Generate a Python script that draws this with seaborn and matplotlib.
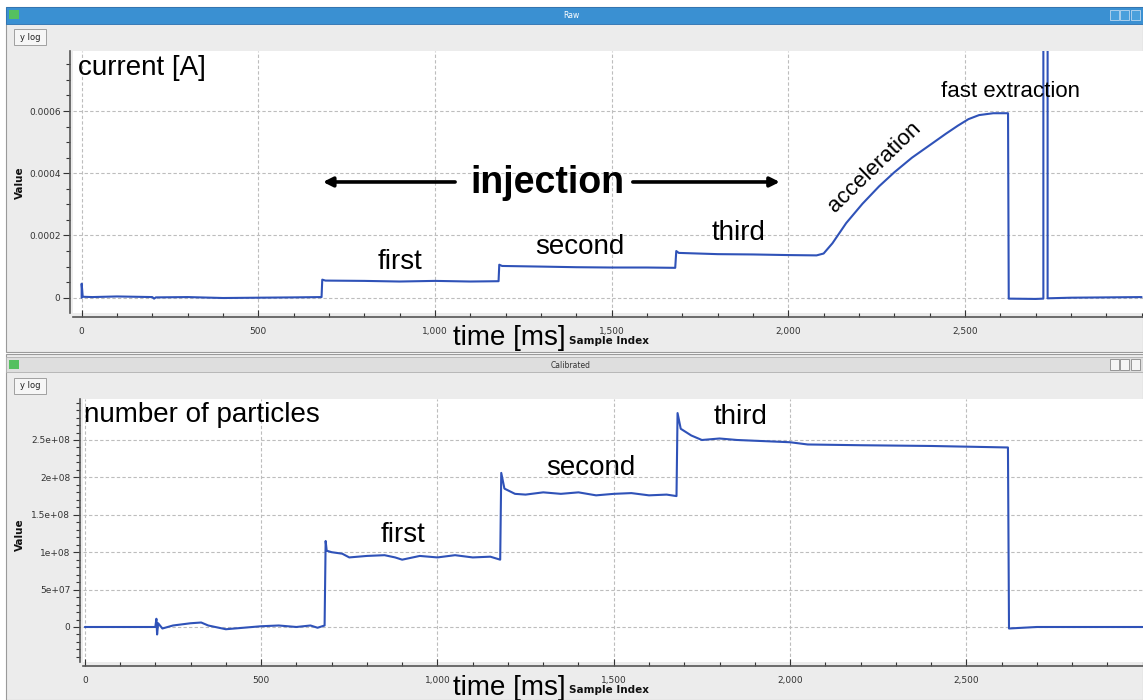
import matplotlib
matplotlib.use("Agg")
import matplotlib.pyplot as plt
from matplotlib.patches import Rectangle
from matplotlib.ticker import MultipleLocator, FixedLocator, FixedFormatter
import seaborn as sns
import pandas as pd

# ---------------- data ----------------
raw_time = [0, 0, 3, 30, 100, 150, 200, 205, 210, 300, 400, 500, 600, 679,
            681, 690, 800, 900, 1000, 1100, 1180,
            1182, 1190, 1300, 1400, 1500, 1600, 1680,
            1683, 1690, 1800, 1900, 2000, 2080, 2100, 2125,
            2164, 2210, 2257, 2300, 2350, 2400, 2446, 2480, 2510, 2540, 2580, 2622,
            2624, 2700, 2722, 2722, 2734, 2734, 2800, 2900, 3000]
raw_current = [0.0, 0.000045, 0.000003, 0.000002, 0.000004, 0.000003, 0.000002, -0.000003, 0.000001,
               0.000002, -0.000001, 0.0, 0.000001, 0.000002,
               0.000058, 0.000055, 0.000054, 0.000052, 0.000054, 0.000052, 0.000053,
               0.000106, 0.000102, 0.000100, 0.000098, 0.000097, 0.000097, 0.000096,
               0.000150, 0.000144, 0.000140, 0.000139, 0.000137, 0.000136, 0.000142, 0.000175,
               0.000240, 0.000302, 0.000358, 0.000403, 0.000450, 0.000490, 0.000527, 0.000553,
               0.000574, 0.000587, 0.000593, 0.000593,
               -0.000003, -0.000004, -0.000003, 0.002, 0.002, -0.000002, 0.0, 0.000001, 0.000002]

cal_time = [0, 200, 203, 205, 208, 220, 250, 300, 330, 350, 400, 450, 500, 550, 600, 640, 660, 680,
            683, 686, 700, 730, 750, 800, 850, 880, 900, 950, 1000, 1050, 1100, 1150, 1178,
            1181, 1190, 1220, 1250, 1300, 1350, 1400, 1450, 1500, 1550, 1600, 1650, 1678,
            1681, 1690, 1720, 1750, 1800, 1850, 1900, 2000, 2050, 2200, 2400, 2618,
            2621, 2700, 3000]
cal_particles = [0, 0, 1.1e7, -1.0e7, 5e6, -2e6, 2e6, 5e6, 6e6, 2e6, -3e6, -1e6, 1e6, 2e6, 0, 2e6, -1e6, 2e6,
                 1.15e8, 1.02e8, 1.0e8, 9.8e7, 9.3e7, 9.5e7, 9.6e7, 9.3e7, 9.0e7, 9.5e7, 9.3e7, 9.6e7, 9.3e7, 9.4e7, 9.0e7,
                 2.06e8, 1.85e8, 1.78e8, 1.77e8, 1.80e8, 1.78e8, 1.80e8, 1.76e8, 1.78e8, 1.79e8, 1.76e8, 1.77e8, 1.75e8,
                 2.86e8, 2.65e8, 2.56e8, 2.50e8, 2.52e8, 2.50e8, 2.49e8, 2.47e8, 2.44e8, 2.43e8, 2.42e8, 2.40e8,
                 -2e6, 0, 0]

top_yticks = [0, 0.0002, 0.0004, 0.0006]
top_yticklabels = ["0", "0.0002", "0.0004", "0.0006"]
bot_yticks = [0, 5e7, 1e8, 1.5e8, 2e8, 2.5e8]
bot_yticklabels = ["0", "5e+07", "1e+08", "1.5e+08", "2e+08", "2.5e+08"]
xticks = [0, 500, 1000, 1500, 2000, 2500]
xticklabels = ["0", "500", "1,000", "1,500", "2,000", "2,500"]

# ---------------- figure ----------------
sns.set_theme(style="white")
plt.rcParams["font.family"] = ["DejaVu Sans"]
plt.rcParams["text.color"] = "black"
W, H = 1143, 700
fig = plt.figure(figsize=(W / 100, H / 100), dpi=100)
fig.patch.set_facecolor("white")

def rect_px(x0, y0, x1, y1, **kw):
    r = Rectangle((x0 / W, 1 - y1 / H), (x1 - x0) / W, (y1 - y0) / H,
                  transform=fig.transFigure, **kw)
    fig.add_artist(r)
    return r

def text_px(x, y, s, **kw):
    return fig.text(x / W, 1 - y / H, s, **kw)

# window chrome
rect_px(6, 7, W, 352, facecolor="#ececec", edgecolor="#9a9a9a", lw=0.8, zorder=0)
rect_px(6, 7, W, 24, facecolor="#3a90d2", edgecolor="#2a70b0", lw=0.6, zorder=1)
text_px(571, 16, "Raw", color="white", fontsize=5.5, ha="center", va="center")
rect_px(9, 10, 19, 19, facecolor="#55c060", edgecolor="none", zorder=2)
for bx in (1110, 1120, 1131):
    rect_px(bx, 10, bx + 9, 20, facecolor="#4aa0dc", edgecolor="#bcd8f0", lw=0.6, zorder=2)

rect_px(6, 354, W, 700, facecolor="#ececec", edgecolor="#9a9a9a", lw=0.8, zorder=0)
rect_px(6, 357, W, 372, facecolor="#dedede", edgecolor="#b0b0b0", lw=0.6, zorder=1)
text_px(571, 365, "Calibrated", color="#333333", fontsize=5.5, ha="center", va="center")
rect_px(9, 360, 19, 369, facecolor="#55c060", edgecolor="none", zorder=2)
for bx in (1110, 1120, 1131):
    rect_px(bx, 359, bx + 9, 370, facecolor="#f4f4f4", edgecolor="#888888", lw=0.6, zorder=2)

for yb in (29, 378):
    rect_px(14, yb, 46, yb + 16, facecolor="#f6f6f6", edgecolor="#a0a0a0", lw=0.7, zorder=2)
    text_px(30, yb + 8, "y log", fontsize=6, ha="center", va="center", color="#222222")

line_color = "#2f52b8"
grid_kw = dict(color="#bdbdbd", linestyle=(0, (3, 2)), linewidth=0.8)

def style_axes(ax, yticks, yticklabels, yminor):
    ax.set_facecolor("white")
    for s in ("top", "right"):
        ax.spines[s].set_visible(False)
    ax.spines["left"].set_position(("outward", 2))
    ax.spines["bottom"].set_position(("outward", 3))
    for s in ("left", "bottom"):
        ax.spines[s].set_color("#555555")
        ax.spines[s].set_linewidth(1.2)
    ax.xaxis.set_major_locator(FixedLocator(xticks))
    ax.xaxis.set_major_formatter(FixedFormatter(xticklabels))
    ax.xaxis.set_minor_locator(MultipleLocator(100))
    ax.yaxis.set_major_locator(FixedLocator(yticks))
    ax.yaxis.set_major_formatter(FixedFormatter(yticklabels))
    ax.yaxis.set_minor_locator(MultipleLocator(yminor))
    ax.tick_params(axis="x", which="major", direction="in", length=5, width=0.8,
                   labelsize=6.5, colors="#333333", pad=7, bottom=True)
    ax.tick_params(axis="x", which="minor", direction="in", length=3, width=0.8,
                   colors="#333333", bottom=True)
    ax.tick_params(axis="y", which="major", direction="out", length=5, width=0.8,
                   labelsize=6.5, colors="#333333", pad=2, left=True)
    ax.tick_params(axis="y", which="minor", direction="out", length=3, width=0.8,
                   colors="#333333", left=True)
    ax.grid(True, which="major", **grid_kw)
    ax.set_xlabel("")
    ax.set_ylabel("")

tf = "Liberation Sans"
txt = dict(family=tf, color="black", ha="center", va="center")

# ---------------- top panel ----------------
ax1 = fig.add_axes([73 / W, 1 - 313 / H, (W - 73) / W, (313 - 50.7) / H])
df_raw = pd.DataFrame({"t": raw_time, "v": raw_current})
sns.lineplot(data=df_raw, x="t", y="v", estimator=None, sort=False, ax=ax1,
             color=line_color, linewidth=1.5)
ax1.set_xlim(-24.5, 3004)
ax1.set_ylim(-0.0000492, 0.000794)
style_axes(ax1, top_yticks, top_yticklabels, 0.00005)

ax1.text(-10.5, 0.000737, "current [A]", fontsize=20, family=tf, color="black",
         ha="left", va="center")
ax1.text(901, 0.000115, "first", fontsize=20, **txt)
ax1.text(1411, 0.000163, "second", fontsize=20, **txt)
ax1.text(1858, 0.000208, "third", fontsize=20, **txt)
ax1.text(2245, 0.00042, "acceleration", fontsize=16, rotation=44, **txt)
ax1.text(2628, 0.000662, "fast extraction", fontsize=16, **txt)
ax1.text(1317, 0.000369, "injection", fontsize=27, weight="bold", **txt)
arrow_kw = dict(arrowstyle="-|>", color="black", lw=2.6, mutation_scale=14,
                shrinkA=0, shrinkB=0)
ax1.annotate("", xy=(683, 0.000372), xytext=(1057, 0.000372), arrowprops=arrow_kw)
ax1.annotate("", xy=(1976, 0.000372), xytext=(1560, 0.000372), arrowprops=arrow_kw)

# ---------------- bottom panel ----------------
ax2 = fig.add_axes([82.7 / W, 1 - 662 / H, (W - 82.7) / W, (662 - 399.3) / H])
df_cal = pd.DataFrame({"t": cal_time, "v": cal_particles})
sns.lineplot(data=df_cal, x="t", y="v", estimator=None, sort=False, ax=ax2,
             color=line_color, linewidth=1.5)
ax2.set_xlim(-6, 3001)
ax2.set_ylim(-4.68e7, 3.044e8)
style_axes(ax2, bot_yticks, bot_yticklabels, 1e7)

ax2.text(-1, 2.83e8, "number of particles", fontsize=20, family=tf, color="black",
         ha="left", va="center")
ax2.text(902, 1.23e8, "first", fontsize=20, **txt)
ax2.text(1434, 2.13e8, "second", fontsize=20, **txt)
ax2.text(1860, 2.81e8, "third", fontsize=20, **txt)

# axis labels
for yc in (183, 535):
    text_px(20, yc, "Value", fontsize=7.5, weight="bold", rotation=90,
            ha="center", va="center", color="#111111")
for yc, ys in ((338, 341), (688, 690)):
    text_px(609, ys, "Sample Index", fontsize=7.5, weight="bold", ha="center",
            va="center", color="#111111")
    text_px(509, yc, "time [ms]", fontsize=20, family=tf, color="black",
            ha="center", va="center")

fig.savefig("out.png", dpi=100)
